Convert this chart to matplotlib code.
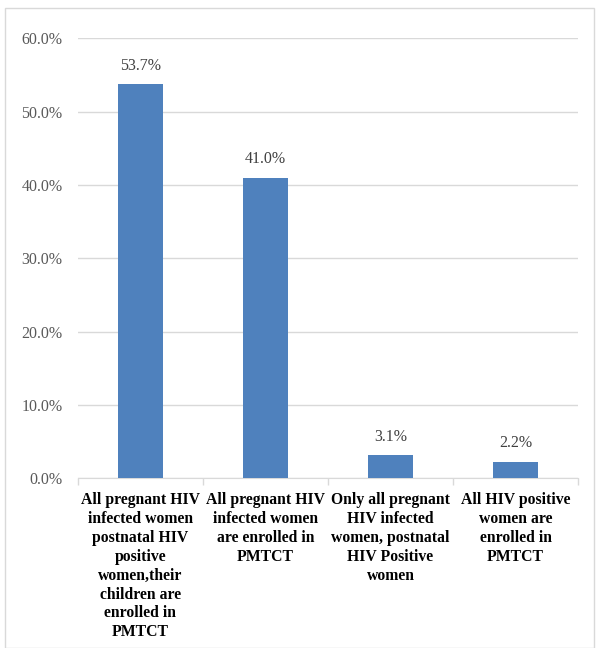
import matplotlib.pyplot as plt
from matplotlib.patches import Rectangle
import numpy as np

categories = [
    "All pregnant HIV\ninfected women\npostnatal HIV\npositive\nwomen,their\nchildren are\nenrolled in\nPMTCT",
    "All pregnant HIV\ninfected women\nare enrolled in\nPMTCT",
    "Only all pregnant\nHIV infected\nwomen, postnatal\nHIV Positive\nwomen",
    "All HIV positive\nwomen are\nenrolled in\nPMTCT",
]
values = [53.7, 41.0, 3.1, 2.2]
yticks = [0, 10, 20, 30, 40, 50, 60]

plt.rcParams['font.family'] = ['Liberation Serif', 'DejaVu Serif']

fig = plt.figure(figsize=(5.99, 6.48), dpi=100)
ax = fig.add_axes([0.130, 0.262, 0.835, 0.679])

x = np.arange(len(values))
ax.bar(x, values, width=0.36, color='#4f81bd', zorder=3)
for xi, v in zip(x, values):
    ax.text(xi, v + 1.45, '%.1f%%' % v, ha='center', va='bottom', fontsize=11.5, color='#404040')

ax.set_xlim(-0.5, len(values) - 0.5)
ax.set_ylim(0, 60)
ax.set_yticks(yticks)
ax.set_yticklabels(['%.1f%%' % t for t in yticks], fontsize=11.5, color='#595959')
ax.yaxis.grid(True, color='#d9d9d9', linewidth=1, zorder=0)
ax.tick_params(axis='y', length=0, pad=11)

ax.set_xticks(x)
ax.set_xticklabels(categories, fontsize=11.3, fontweight='bold', linespacing=1.24)
ax.tick_params(axis='x', which='major', length=0, pad=10)
ax.set_xticks(np.arange(len(values) + 1) - 0.5, minor=True)
ax.tick_params(axis='x', which='minor', length=5, color='#d9d9d9', width=1)

for s in ['top', 'right', 'left']:
    ax.spines[s].set_visible(False)
ax.spines['bottom'].set_color('#d9d9d9')

fig.patches.append(Rectangle((5 / 599, 0), 589 / 599, 640 / 648, transform=fig.transFigure,
                             fill=False, edgecolor='#d9d9d9', linewidth=1))

fig.savefig('out.png', dpi=100)
